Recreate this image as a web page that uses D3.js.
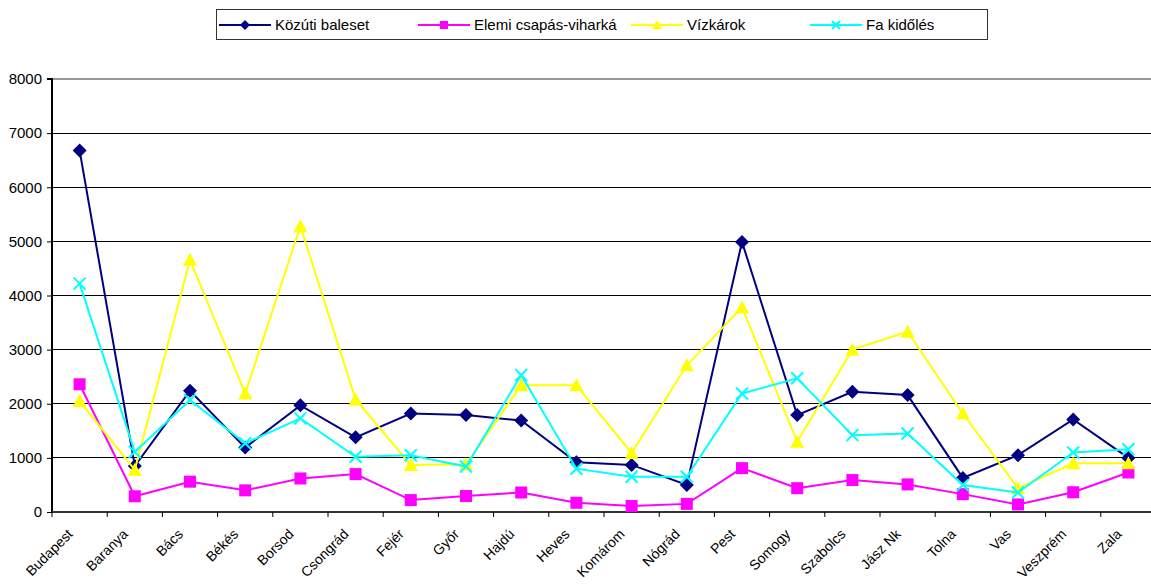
<!DOCTYPE html>
<html>
<head>
<meta charset="utf-8">
<script src="https://cdn.jsdelivr.net/npm/d3@7"></script>
<style>
  html, body { margin: 0; padding: 0; background: #fff; }
  svg { display: block; font-family: "Liberation Sans", Arial, sans-serif; }
</style>
</head>
<body>
<svg id="chart" width="1151" height="585"></svg>
<script>
// Counties (megyék)
const categories = ["Budapest", "Baranya", "Bács", "Békés", "Borsod", "Csongrád", "Fejér", "Győr",
  "Hajdú", "Heves", "Komárom", "Nógrád", "Pest", "Somogy", "Szabolcs", "Jász Nk", "Tolna", "Vas",
  "Veszprém", "Zala"];

const kozuti = [6680, 850, 2240, 1190, 1970, 1380, 1820, 1790, 1690, 920, 870, 500, 4990, 1790, 2220, 2160, 630, 1050, 1710, 1000];
const elemi  = [2360, 290, 560, 400, 620, 700, 220, 295, 360, 170, 110, 150, 810, 440, 590, 510, 330, 140, 365, 730];
const vizkar = [2050, 780, 4660, 2190, 5280, 2080, 870, 880, 2340, 2340, 1090, 2710, 3780, 1300, 3000, 3330, 1820, 440, 900, 900];
const fa     = [4220, 1110, 2070, 1270, 1730, 1020, 1050, 840, 2530, 800, 650, 650, 2190, 2470, 1420, 1450, 500, 360, 1100, 1160];

const yTicks = [0, 1000, 2000, 3000, 4000, 5000, 6000, 7000, 8000];

const series = [
  { name: "Közúti baleset", values: kozuti, color: "#000080", marker: "diamond" },
  { name: "Elemi csapás-viharká", values: elemi, color: "#FF00FF", marker: "square" },
  { name: "Vízkárok", values: vizkar, color: "#FFFF00", marker: "triangle" },
  { name: "Fa kidőlés", values: fa, color: "#00FFFF", marker: "cross" }
];

const svg = d3.select("#chart");
const plotLeft = 52, plotTop = 79, plotBottom = 512, plotRight = 52 + 20 * 55.2;
const fontSize = 15;

const x = d3.scaleBand().domain(categories).range([plotLeft, plotRight]).padding(0);
const y = d3.scaleLinear().domain([0, 8000]).range([plotBottom, plotTop]);
const cx = d => x(d) + x.bandwidth() / 2;

// Horizontal gridlines
svg.append("g").selectAll("line").data(yTicks.filter(d => d > 0)).join("line")
  .attr("x1", plotLeft).attr("x2", plotRight)
  .attr("y1", d => y(d)).attr("y2", d => y(d))
  .attr("stroke", d => d === 8000 ? "#999" : "#000")
  .attr("stroke-width", d => d === 8000 ? 2 : 1)
  .attr("shape-rendering", "crispEdges");

// Y axis
const yAxis = svg.append("g").attr("transform", `translate(${plotLeft},0)`)
  .call(d3.axisLeft(y).tickValues(yTicks).tickSize(5).tickPadding(5).tickFormat(d3.format("d")));
yAxis.select(".domain").attr("stroke", "#000").attr("stroke-width", 2).attr("d", `M-5,${plotTop}H0V${plotBottom}`);
yAxis.selectAll(".tick line").attr("stroke", "#000");
yAxis.selectAll("text").attr("font-size", fontSize).attr("fill", "#000");

// X axis with ticks at category boundaries
const xg = svg.append("g");
xg.append("line").attr("x1", plotLeft).attr("x2", plotRight).attr("y1", plotBottom).attr("y2", plotBottom)
  .attr("stroke", "#333").attr("stroke-width", 2);
xg.selectAll("line.tk").data(d3.range(categories.length + 1)).join("line").attr("class", "tk")
  .attr("x1", i => plotLeft + i * x.bandwidth()).attr("x2", i => plotLeft + i * x.bandwidth())
  .attr("y1", plotBottom).attr("y2", plotBottom + 5).attr("stroke", "#000");
xg.selectAll("text").data(categories).join("text")
  .attr("transform", d => `translate(${cx(d) - 6},${plotBottom + 23}) rotate(-45)`)
  .attr("text-anchor", "end")
  .attr("font-size", 14)
  .attr("fill", "#000")
  .text(d => d);

// Marker shapes
function drawMarker(g, type, color, size) {
  if (type === "diamond") {
    const s = size + 1;
    g.append("path").attr("d", `M0,${-s}L${s},0L0,${s}L${-s},0Z`).attr("fill", color);
  } else if (type === "square") {
    g.append("rect").attr("x", -size).attr("y", -size).attr("width", size * 2).attr("height", size * 2).attr("fill", color);
  } else if (type === "triangle") {
    g.append("path").attr("d", `M0,${-size - 1}L${size + 1},${size}L${-size - 1},${size}Z`).attr("fill", color);
  } else {
    g.append("path").attr("d", `M${-size},${-size}L${size},${size}M${-size},${size}L${size},${-size}`)
      .attr("stroke", color).attr("stroke-width", 2).attr("fill", "none");
  }
}

const line = d3.line().x((d, i) => cx(categories[i])).y(d => y(d));

series.forEach(s => {
  const g = svg.append("g");
  g.append("path").datum(s.values).attr("d", line)
    .attr("fill", "none").attr("stroke", s.color).attr("stroke-width", 2);
  s.values.forEach((v, i) => {
    const m = g.append("g").attr("transform", `translate(${cx(categories[i])},${y(v)})`);
    drawMarker(m, s.marker, s.color, 6);
  });
});

// Legend
const legend = svg.append("g");
legend.append("rect").attr("x", 216.5).attr("y", 9.5).attr("width", 771).attr("height", 30)
  .attr("fill", "#fff").attr("stroke", "#333").attr("stroke-width", 1);
const legendX = [219, 418, 631, 810];
series.forEach((s, i) => {
  const g = legend.append("g").attr("transform", `translate(${legendX[i]},25)`);
  g.append("line").attr("x1", 0).attr("x2", 52).attr("y1", 0).attr("y2", 0)
    .attr("stroke", s.color).attr("stroke-width", 2);
  drawMarker(g.append("g").attr("transform", "translate(26,0)"), s.marker, s.color, 4);
  g.append("text").attr("x", 56).attr("y", 0).attr("dy", "0.35em")
    .attr("font-size", fontSize).attr("fill", "#000").text(s.name);
});
</script>
</body>
</html>
